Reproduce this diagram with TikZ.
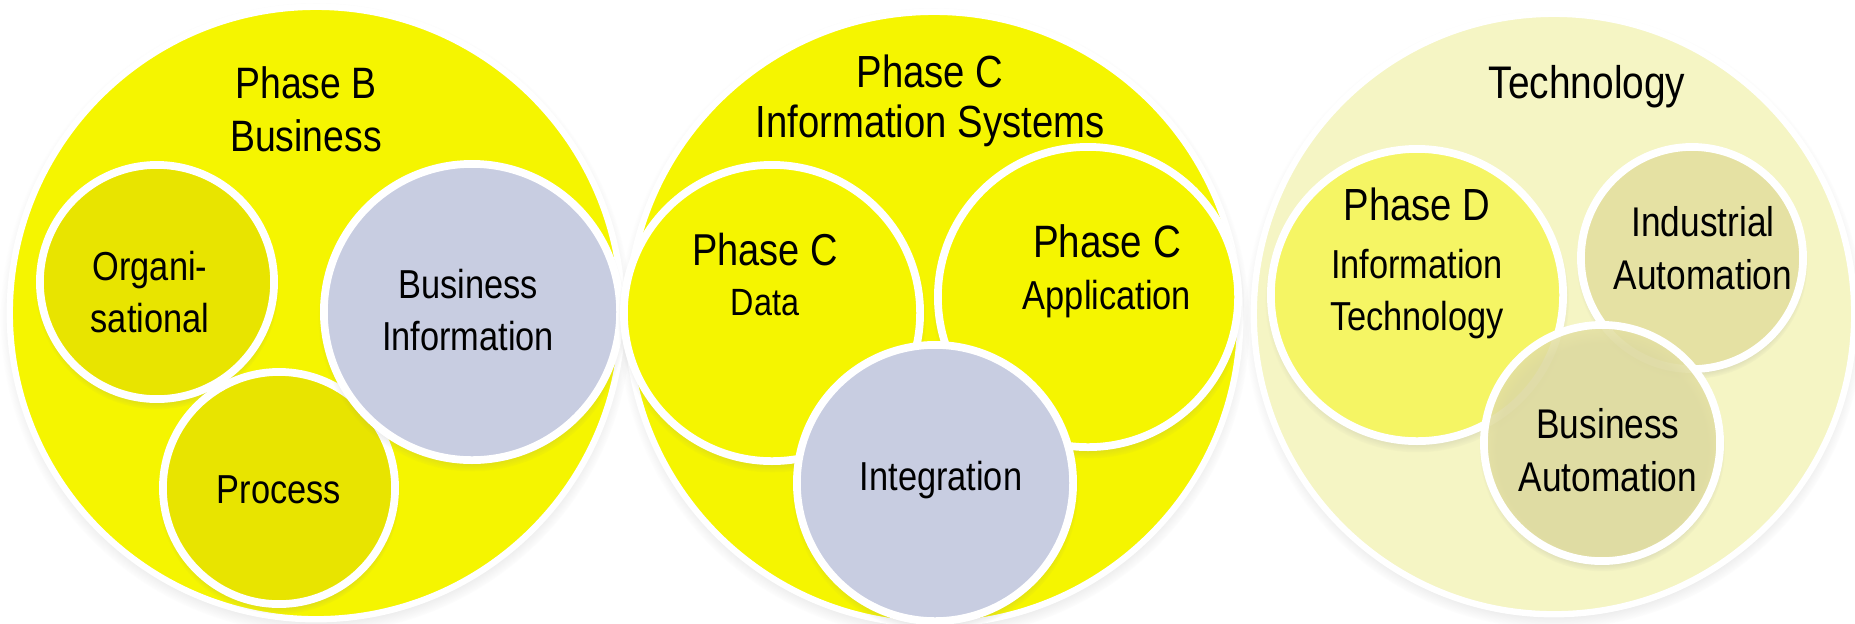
\documentclass[tikz,border=0pt]{standalone}
\usepackage{fontspec}
\setmainfont{Liberation Sans}[FakeStretch=0.85]
\usetikzlibrary{shadows}

\definecolor{phaseyellow}{RGB}{245,245,0}
\definecolor{partyellow}{RGB}{232,228,0}
\definecolor{infogrey}{RGB}{200,205,225}
\definecolor{techpale}{RGB}{245,245,196}
\definecolor{techyellow}{RGB}{245,245,100}
\definecolor{autokhaki}{RGB}{229,225,163}

\begin{document}
\begin{tikzpicture}[
    x=0.01cm, y=-0.01cm,
    % Stile per i cerchi grandi (fasi)
    phase/.style={circle, draw=white, line width=1.8pt, inner sep=0pt,
        minimum size=#1*0.02cm,
        circular drop shadow={shadow scale=1.03, shadow xshift=0pt, shadow yshift=-1.5pt, opacity=0.5}},
    % Stile per i cerchi interni
    part/.style={circle, draw=white, line width=2.2pt, inner sep=0pt,
        minimum size=#1*0.02cm,
        circular drop shadow={shadow scale=1.04, shadow xshift=0pt, shadow yshift=-1.5pt, opacity=0.45}},
    % Stile per i titoli
    title/.style={align=center, anchor=base, font=\fontsize{12.8}{14.2}\selectfont},
    % Stile per le etichette interne
    circletext/.style={align=center, anchor=base, font=\fontsize{11.5}{14.6}\selectfont}
]
    \useasboundingbox (0,0) rectangle (1855,623);

    % --- Phase B (Business) ---
    \begin{scope}[shift={(316,313)}]
        \node[phase=306, fill=phaseyellow] (business) at (0,0) {};
        \node[part=117, fill=partyellow] (organisational) at (-159,-31) {};
        \node[part=116, fill=partyellow] (process) at (-37,175) {};
        \node[part=148, fill=infogrey] (businessinfo) at (156,-1) {};

        \node[title, font=\fontsize{12.5}{15}\selectfont] (businesstitle) at (-10,-162) {Phase B\\Business};
        \node[circletext] (organisationaltext) at (-166,19) {Organi-\\sational};
        \node[circletext] (businessinfotext) at (152,37) {Business\\Information};
        \node[circletext] (processtext) at (-37,190) {Process};
    \end{scope}

    % --- Phase C (Information Systems) ---
    \begin{scope}[shift={(934,318)}]
        \node[phase=306, fill=phaseyellow] (infosys) at (0,0) {};
        \node[part=148, fill=phaseyellow] (data) at (-162,-5) {};
        \node[part=150, fill=phaseyellow] (application) at (154,-21) {};
        \node[part=138, fill=infogrey] (integration) at (1,165) {};

        \node[title] (infosystitle) at (-4,-181) {Phase C\\Information Systems};
        \node[circletext, font=\fontsize{10.8}{14.2}\selectfont] (datatext) at (-169,-3)
            {{\fontsize{12.7}{14.2}\selectfont Phase C}\\Data};
        \node[circletext] (applicationtext) at (173,-9)
            {{\fontsize{12.9}{14.6}\selectfont Phase C}\\Application};
        \node[circletext] (integrationtext) at (7,172) {Integration};
    \end{scope}

    % --- Technology ---
    \begin{scope}[shift={(1554,314)}]
        \node[phase=300, fill=techpale] (technology) at (0,0) {};
        \node[part=146, fill=techyellow] (infotech) at (-137,-19) {};
        \node[part=111, fill=autokhaki] (industrial) at (138,-56) {};
        \node[part=118, fill=autokhaki, fill opacity=0.85, text opacity=1] (bizauto) at (48,129) {};

        \node[title, font=\fontsize{13}{14.2}\selectfont] (technologytitle) at (33,-216) {Technology};
        \node[circletext] (infotechtext) at (-137,16)
            {{\fontsize{12.8}{15}\selectfont Phase D}\\[2pt]Information\\Technology};
        \node[circletext, font=\fontsize{11.8}{14.8}\selectfont] (industrialtext) at (149,-25) {Industrial\\Automation};
        \node[circletext, font=\fontsize{11.8}{14.8}\selectfont] (bizautotext) at (54,177) {Business\\Automation};
    \end{scope}

\end{tikzpicture}
\end{document}
